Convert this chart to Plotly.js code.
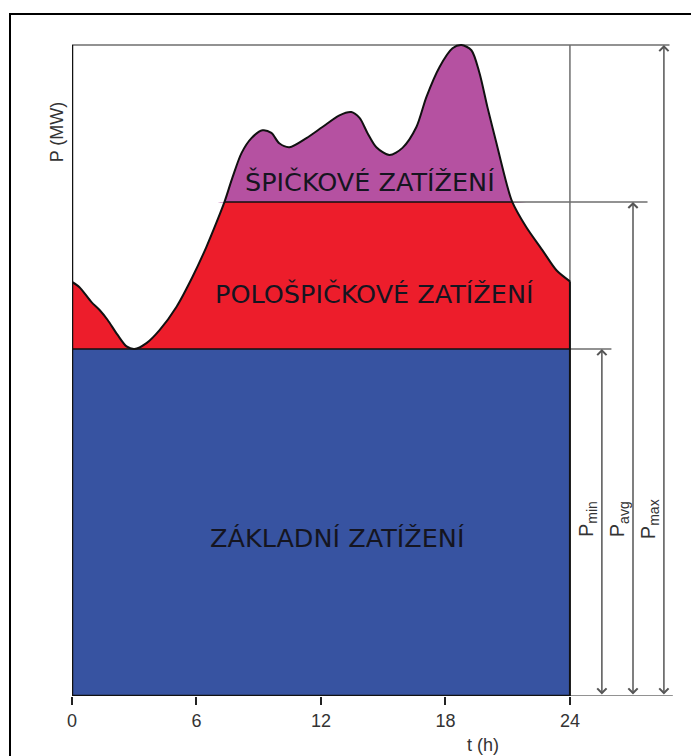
<!DOCTYPE html>
<html>
<head>
<meta charset="utf-8">
<script src="https://cdn.plot.ly/plotly-3.0.1.min.js"></script>
<style>
  html, body { margin: 0; padding: 0; overflow: hidden; background: #fff; }
  #graf { width: 691px; height: 756px; }
  #ramecek { position: absolute; left: 9px; top: 13px; right: -20px; bottom: -20px; border: 2px solid #000; pointer-events: none; }
</style>
</head>
<body>
<div id="graf"></div>
<div id="ramecek"></div>
<script>
// denní diagram zatížení (hodiny, MW v relativních jednotkách)
const hodiny = [0, 0.36, 0.94, 1.33, 1.71, 2.19, 2.63, 3.01, 3.59, 4.22, 5.04, 5.81, 6.48, 6.96, 7.35,
  7.74, 8.17, 8.65, 9.18, 9.61, 9.99, 10.48, 11.30, 12.07, 12.89, 13.46, 13.86, 14.24, 14.67, 15.30,
  15.93, 16.60, 17.08, 17.71, 18.34, 18.77, 19.25, 19.64, 20.02, 20.46, 20.94, 21.22, 21.90, 22.67, 23.35, 24];
const zatizeni = [63.6, 62.8, 60.5, 59.3, 57.8, 55.5, 53.7, 53.3, 54.2, 56.2, 59.8, 64.4, 69.0, 72.7, 75.9,
  79.7, 83.4, 85.7, 86.9, 86.5, 84.9, 84.3, 85.7, 87.4, 89.2, 89.7, 88.8, 86.5, 84.3, 83.1,
  84.2, 87.4, 92.0, 96.6, 99.5, 100, 99.2, 95.7, 90.5, 84.9, 78.8, 75.9, 72.0, 68.5, 65.4, 63.7];
const pMin = 53.3;
const pAvg = 75.9;
const pMax = 100;
const tickHodiny = [0, 6, 12, 18, 24];
const popisky = ['ZÁKLADNÍ ZATÍŽENÍ', 'POLOŠPIČKOVÉ ZATÍŽENÍ', 'ŠPIČKOVÉ ZATÍŽENÍ'];
const popiskyP = ['P<sub>min</sub>', 'P<sub>avg</sub>', 'P<sub>max</sub>'];

const modra = '#3753a1';
const cervena = '#ed1d2b';
const fialova = '#b551a1';
const seda = '#6e6e6e';

const t0 = hodiny[0];
const t24 = hodiny[hodiny.length - 1];
const pKonec = zatizeni[zatizeni.length - 1];
const iOd = zatizeni.findIndex(v => v >= pAvg);
let iDo = iOd;
zatizeni.forEach((v, i) => { if (v >= pAvg) iDo = i; });

// kam sahají pomocné čáry a šipky vpravo (v hodinách)
const sipkaX = [25.54, 27.04, 28.53];
const urovne = [pMin, pAvg, pMax];

function cara(x, y, barva, sirka) {
    return { x: x, y: y, mode: 'lines', line: { color: barva, width: sirka }, hoverinfo: 'skip', showlegend: false };
}

let data = [];

// 1. červená plocha pod celou křivkou
data.push({ x: hodiny, y: zatizeni, mode: 'lines', fill: 'tozeroy', fillcolor: cervena,
    line: { width: 0, shape: 'spline', smoothing: 0.8 }, hoverinfo: 'skip', showlegend: false });

// 2. modrá - základní zatížení
data.push({ x: [t0, t24], y: [pMin, pMin], mode: 'lines', fill: 'tozeroy', fillcolor: modra,
    line: { width: 0 }, hoverinfo: 'skip', showlegend: false });

// 3. fialová - špička nad Pavg
data.push(cara(hodiny, hodiny.map(() => pAvg), 'rgba(0,0,0,0)', 0));
data.push({ x: hodiny, y: zatizeni.map(v => Math.max(v, pAvg)), mode: 'lines', fill: 'tonexty', fillcolor: fialova,
    line: { width: 0, shape: 'spline', smoothing: 0.8 }, hoverinfo: 'skip', showlegend: false });

// pomocné šedé čáry
data.push(cara([t0, 28.8], [pMax, pMax], seda, 1.5));
data.push(cara([hodiny[iDo], 27.74], [pAvg, pAvg], seda, 1.5));
data.push(cara([t24, 26.0], [pMin, pMin], seda, 1.5));
data.push(cara([t24, t24], [pKonec, pMax], seda, 1.5));
data.push(cara([t24, 28.96], [0, 0], seda, 1.5));

// černé obrysy
data.push(cara([t0, t24], [pMin, pMin], '#111', 1.5));
data.push(cara([hodiny[iOd], hodiny[iDo]], [pAvg, pAvg], '#111', 1.5));
data.push({ x: hodiny, y: zatizeni, mode: 'lines', line: { color: '#111', width: 2, shape: 'spline', smoothing: 0.8 },
    hoverinfo: 'skip', showlegend: false });
data.push(cara([t24, t24], [0, pKonec], '#111', 2));
data.push(cara([t0, t0], [0, pMax], '#111', 2.5));
data.push(cara([t0, t24], [0, 0], '#111', 2.5));

let anotace = [];

// šipky Pmin / Pavg / Pmax
sipkaX.forEach((x, i) => {
    anotace.push({
        x: x, y: urovne[i], ax: x, ay: 0, xref: 'x', yref: 'y', axref: 'x', ayref: 'y',
        text: '', showarrow: true, arrowside: 'end+start', arrowhead: 4, startarrowhead: 4,
        arrowsize: 1.2, startarrowsize: 1.2, arrowwidth: 1.5, arrowcolor: '#555', standoff: 0, startstandoff: 0
    });
    anotace.push({
        x: x - 0.66, y: 27.2, xref: 'x', yref: 'y', text: popiskyP[i], textangle: -90, showarrow: false,
        font: { family: 'Liberation Sans, Arial, sans-serif', size: 20, color: '#333' }
    });
});

// popisky oblastí
const popiskyPoz = [[12.77, 24.2], [14.58, 61.8], [14.34, 79.0]];
popisky.forEach((t, i) => {
    anotace.push({ x: popiskyPoz[i][0], y: popiskyPoz[i][1], xref: 'x', yref: 'y', text: t, showarrow: false,
        font: { family: 'DejaVu Sans, sans-serif', size: 25.5, color: '#151520' } });
});

// názvy os
anotace.push({ x: 19.8, y: -0.092, xref: 'x', yref: 'paper', text: 't (h)', showarrow: false,
    font: { family: 'Liberation Sans, Arial, sans-serif', size: 18, color: '#333' } });
anotace.push({ x: -0.044, y: 86.6, xref: 'paper', yref: 'y', text: 'P (MW)', textangle: -90, showarrow: false,
    font: { family: 'Liberation Sans, Arial, sans-serif', size: 18, color: '#333' } });

const layout = {
    width: 691, height: 756,
    margin: { l: 72, r: 8, t: 32, b: 60 },
    paper_bgcolor: 'rgba(0,0,0,0)', plot_bgcolor: 'rgba(0,0,0,0)',
    showlegend: false,
    xaxis: {
        range: [0, 29.45], tickvals: tickHodiny, ticktext: tickHodiny.map(String),
        ticks: 'outside', ticklen: 8, tickwidth: 2, tickcolor: '#222',
        showline: false, showgrid: false, zeroline: false,
        tickfont: { family: 'Liberation Sans, Arial, sans-serif', size: 18, color: '#333' }
    },
    yaxis: { range: [0, 102], showticklabels: false, ticks: '', showline: false, showgrid: false, zeroline: false },
    annotations: anotace
};

Plotly.newPlot('graf', data, layout, { staticPlot: true });
</script>
</body>
</html>
